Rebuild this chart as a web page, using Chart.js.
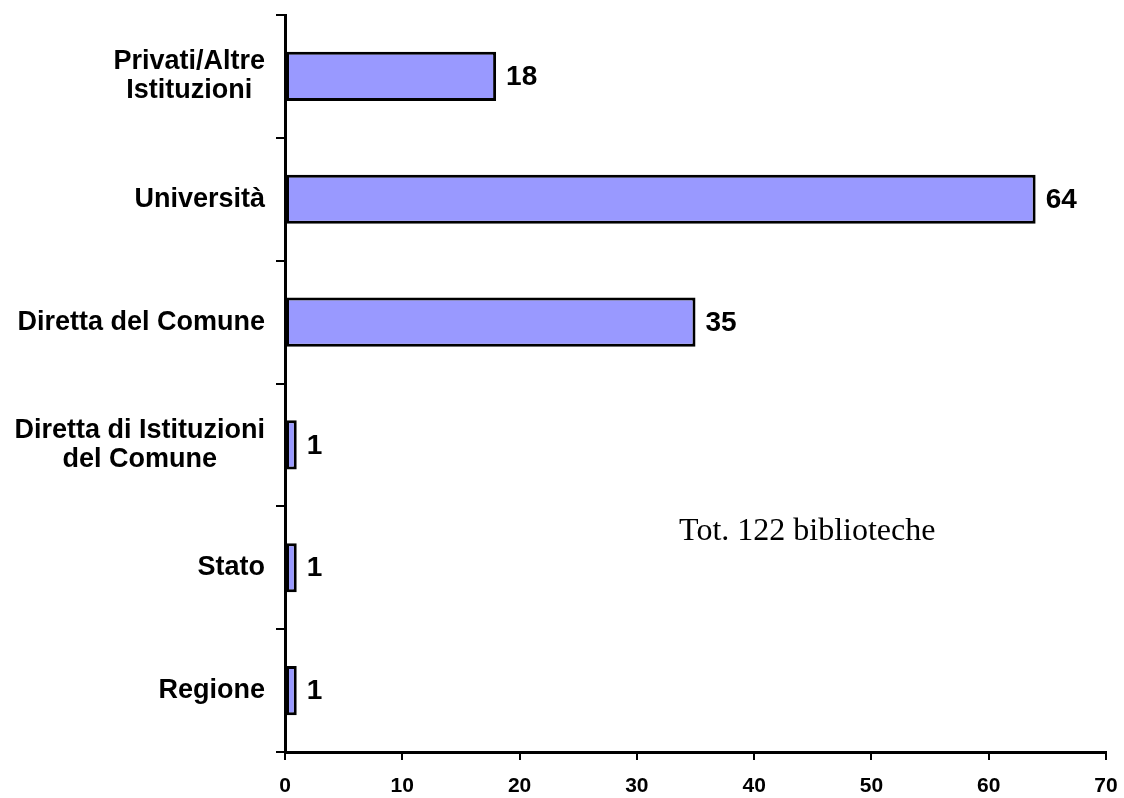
<!DOCTYPE html>
<html>
<head>
<meta charset="utf-8">
<script src="https://cdn.jsdelivr.net/npm/chart.js@4/dist/chart.umd.min.js"></script>
<style>
  html, body { margin: 0; padding: 0; background: #ffffff; }
  #wrap { width: 1124px; height: 798px; }
</style>
</head>
<body>
<div id="wrap"><canvas id="c" width="1124" height="798"></canvas></div>
<script>
// Biblioteche per tipo di gestione
const categories = [
  ['Privati/Altre', 'Istituzioni'],
  'Università',
  'Diretta del Comune',
  ['Diretta di Istituzioni', 'del Comune'],
  'Stato',
  'Regione'
];
const values = [18, 64, 35, 1, 1, 1];
const xTicks = [0, 10, 20, 30, 40, 50, 60, 70];
const noteText = 'Tot. 122 biblioteche';

const SANS = '"Liberation Sans", Arial, Helvetica, sans-serif';
const SERIF = '"Liberation Serif", "Times New Roman", serif';

// Category names: right-aligned blocks, lines centred inside each block
const categoryLabels = {
  id: 'categoryLabels',
  afterDraw(chart) {
    const ctx = chart.ctx;
    const y = chart.scales.y;
    const right = y.right - 20;
    const lineH = 29;
    ctx.save();
    ctx.font = 'bold 27px ' + SANS;
    ctx.fillStyle = '#000';
    ctx.textAlign = 'center';
    ctx.textBaseline = 'middle';
    categories.forEach((lab, i) => {
      const lines = Array.isArray(lab) ? lab : [lab];
      const w = Math.max(...lines.map(l => ctx.measureText(l).width));
      const cx = right - w / 2;
      const cy = y.getPixelForValue(i);
      lines.forEach((l, k) => {
        ctx.fillText(l, cx, cy + (k - (lines.length - 1) / 2) * lineH);
      });
    });
    ctx.restore();
  }
};

// Value printed at the end of each bar, plus the total note
const valueLabels = {
  id: 'valueLabels',
  afterDatasetsDraw(chart) {
    const ctx = chart.ctx;
    const meta = chart.getDatasetMeta(0);
    ctx.save();
    ctx.font = 'bold 28px ' + SANS;
    ctx.fillStyle = '#000';
    ctx.textAlign = 'left';
    ctx.textBaseline = 'middle';
    meta.data.forEach((bar, i) => {
      ctx.fillText(String(values[i]), bar.x + 10, bar.y + 1);
    });
    const xs = chart.scales.x, ys = chart.scales.y;
    ctx.font = '32px ' + SERIF;
    ctx.textBaseline = 'alphabetic';
    ctx.fillText(noteText, xs.getPixelForValue(33.6), ys.getPixelForValue(4) - 28);
    ctx.restore();
  }
};

new Chart(document.getElementById('c'), {
  type: 'bar',
  data: {
    labels: categories,
    datasets: [{
      data: values,
      backgroundColor: '#9999FF',
      borderColor: '#000000',
      borderWidth: 3,
      borderSkipped: false,
      categoryPercentage: 1,
      barPercentage: 0.4
    }]
  },
  options: {
    indexAxis: 'y',
    responsive: false,
    animation: false,
    devicePixelRatio: 1,
    layout: { padding: { top: 15, right: 18, left: 0, bottom: 0 } },
    plugins: { legend: { display: false }, tooltip: { enabled: false } },
    scales: {
      x: {
        type: 'linear',
        min: 0,
        max: 70,
        afterBuildTicks(scale) { scale.ticks = xTicks.map(v => ({ value: v })); },
        afterFit(scale) { scale.height = 46; scale.paddingLeft = 0; scale.paddingRight = 0; },
        grid: { drawOnChartArea: false, drawTicks: true, tickLength: 8, color: '#000', lineWidth: 2 },
        border: { display: true, color: '#000', width: 3 },
        ticks: {
          color: '#000',
          padding: 14,
          font: { family: SANS, size: 21, weight: 'bold' }
        }
      },
      y: {
        type: 'category',
        offset: true,
        afterFit(scale) { scale.width = 285; scale.paddingTop = 0; scale.paddingBottom = 0; },
        grid: { offset: true, drawOnChartArea: false, drawTicks: true, tickLength: 9, color: '#000', lineWidth: 2 },
        border: { display: true, color: '#000', width: 3 },
        ticks: { display: false }
      }
    }
  },
  plugins: [categoryLabels, valueLabels]
});
</script>
</body>
</html>
